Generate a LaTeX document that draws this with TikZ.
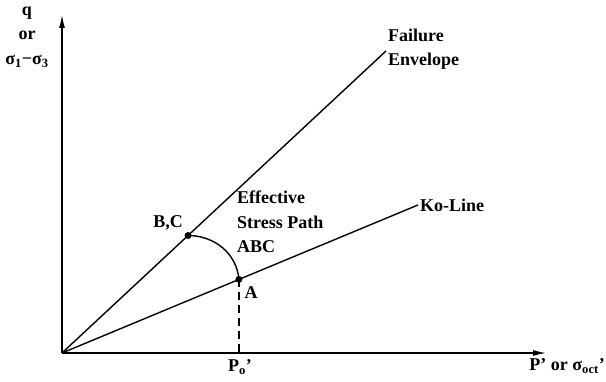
\documentclass[tikz,border=0pt]{standalone}
\usepackage{fontspec}
\setmainfont{Liberation Serif}
\usetikzlibrary{arrows.meta,calc}
\begin{document}
\begin{tikzpicture}[
  x=1pt,y=1pt,
  axis/.style={-{Latex[length=13pt,width=6pt]},line width=1.2pt},
  line/.style={line width=1.4pt},
  dot/.style={circle,fill,inner sep=0pt,minimum size=7pt},
  lab/.style={font=\fontsize{18}{24.5}\selectfont\bfseries,inner sep=0pt}
]
\useasboundingbox (0,0) rectangle (606,382);
\coordinate (O) at (62,29);
\coordinate (qtip) at (62,367);
\coordinate (ptip) at (546,29);
\coordinate (fe) at (386,331);
\coordinate (ko) at (418,177);
\node[dot] (B) at ($(O)!0.389!(fe)$) {};
\node[dot] (A) at ($(O)!0.497!(ko)$) {};
\coordinate (Po) at (A |- O);

\draw[axis] (O) -- (qtip);
\draw[axis] (O) -- (ptip);
\draw[line] (O) -- (fe);
\draw[line] (O) -- (ko);
\draw[line] (B.center) to[out=0,in=95] (A.center);
\draw[line width=1.2pt,dash pattern=on 8pt off 5pt] (A.center) -- (Po);

% labels
\node[lab,align=center] (qlab) at (27,345) {q\\or\\σ\textsubscript{1}−σ\textsubscript{3}};
\node[lab,align=left,anchor=west] (fail) at (388,333) {Failure\\Envelope};
\node[lab,anchor=west] (kolab) at (420,177) {Ko-Line};
\node[lab,align=left,anchor=west] (esp) at (237,160) {Effective\\Stress Path\\ABC};
\node[lab,anchor=east] (bclab) at (183,159) {B,C};
\node[lab] (alab) at (251,89) {A};
\node[lab] (polab) at (240,15) {P\textsubscript{o}'};
\node[lab,anchor=east] (plab) at (605,16) {P' or σ\textsubscript{oct}'};
\end{tikzpicture}
\end{document}
